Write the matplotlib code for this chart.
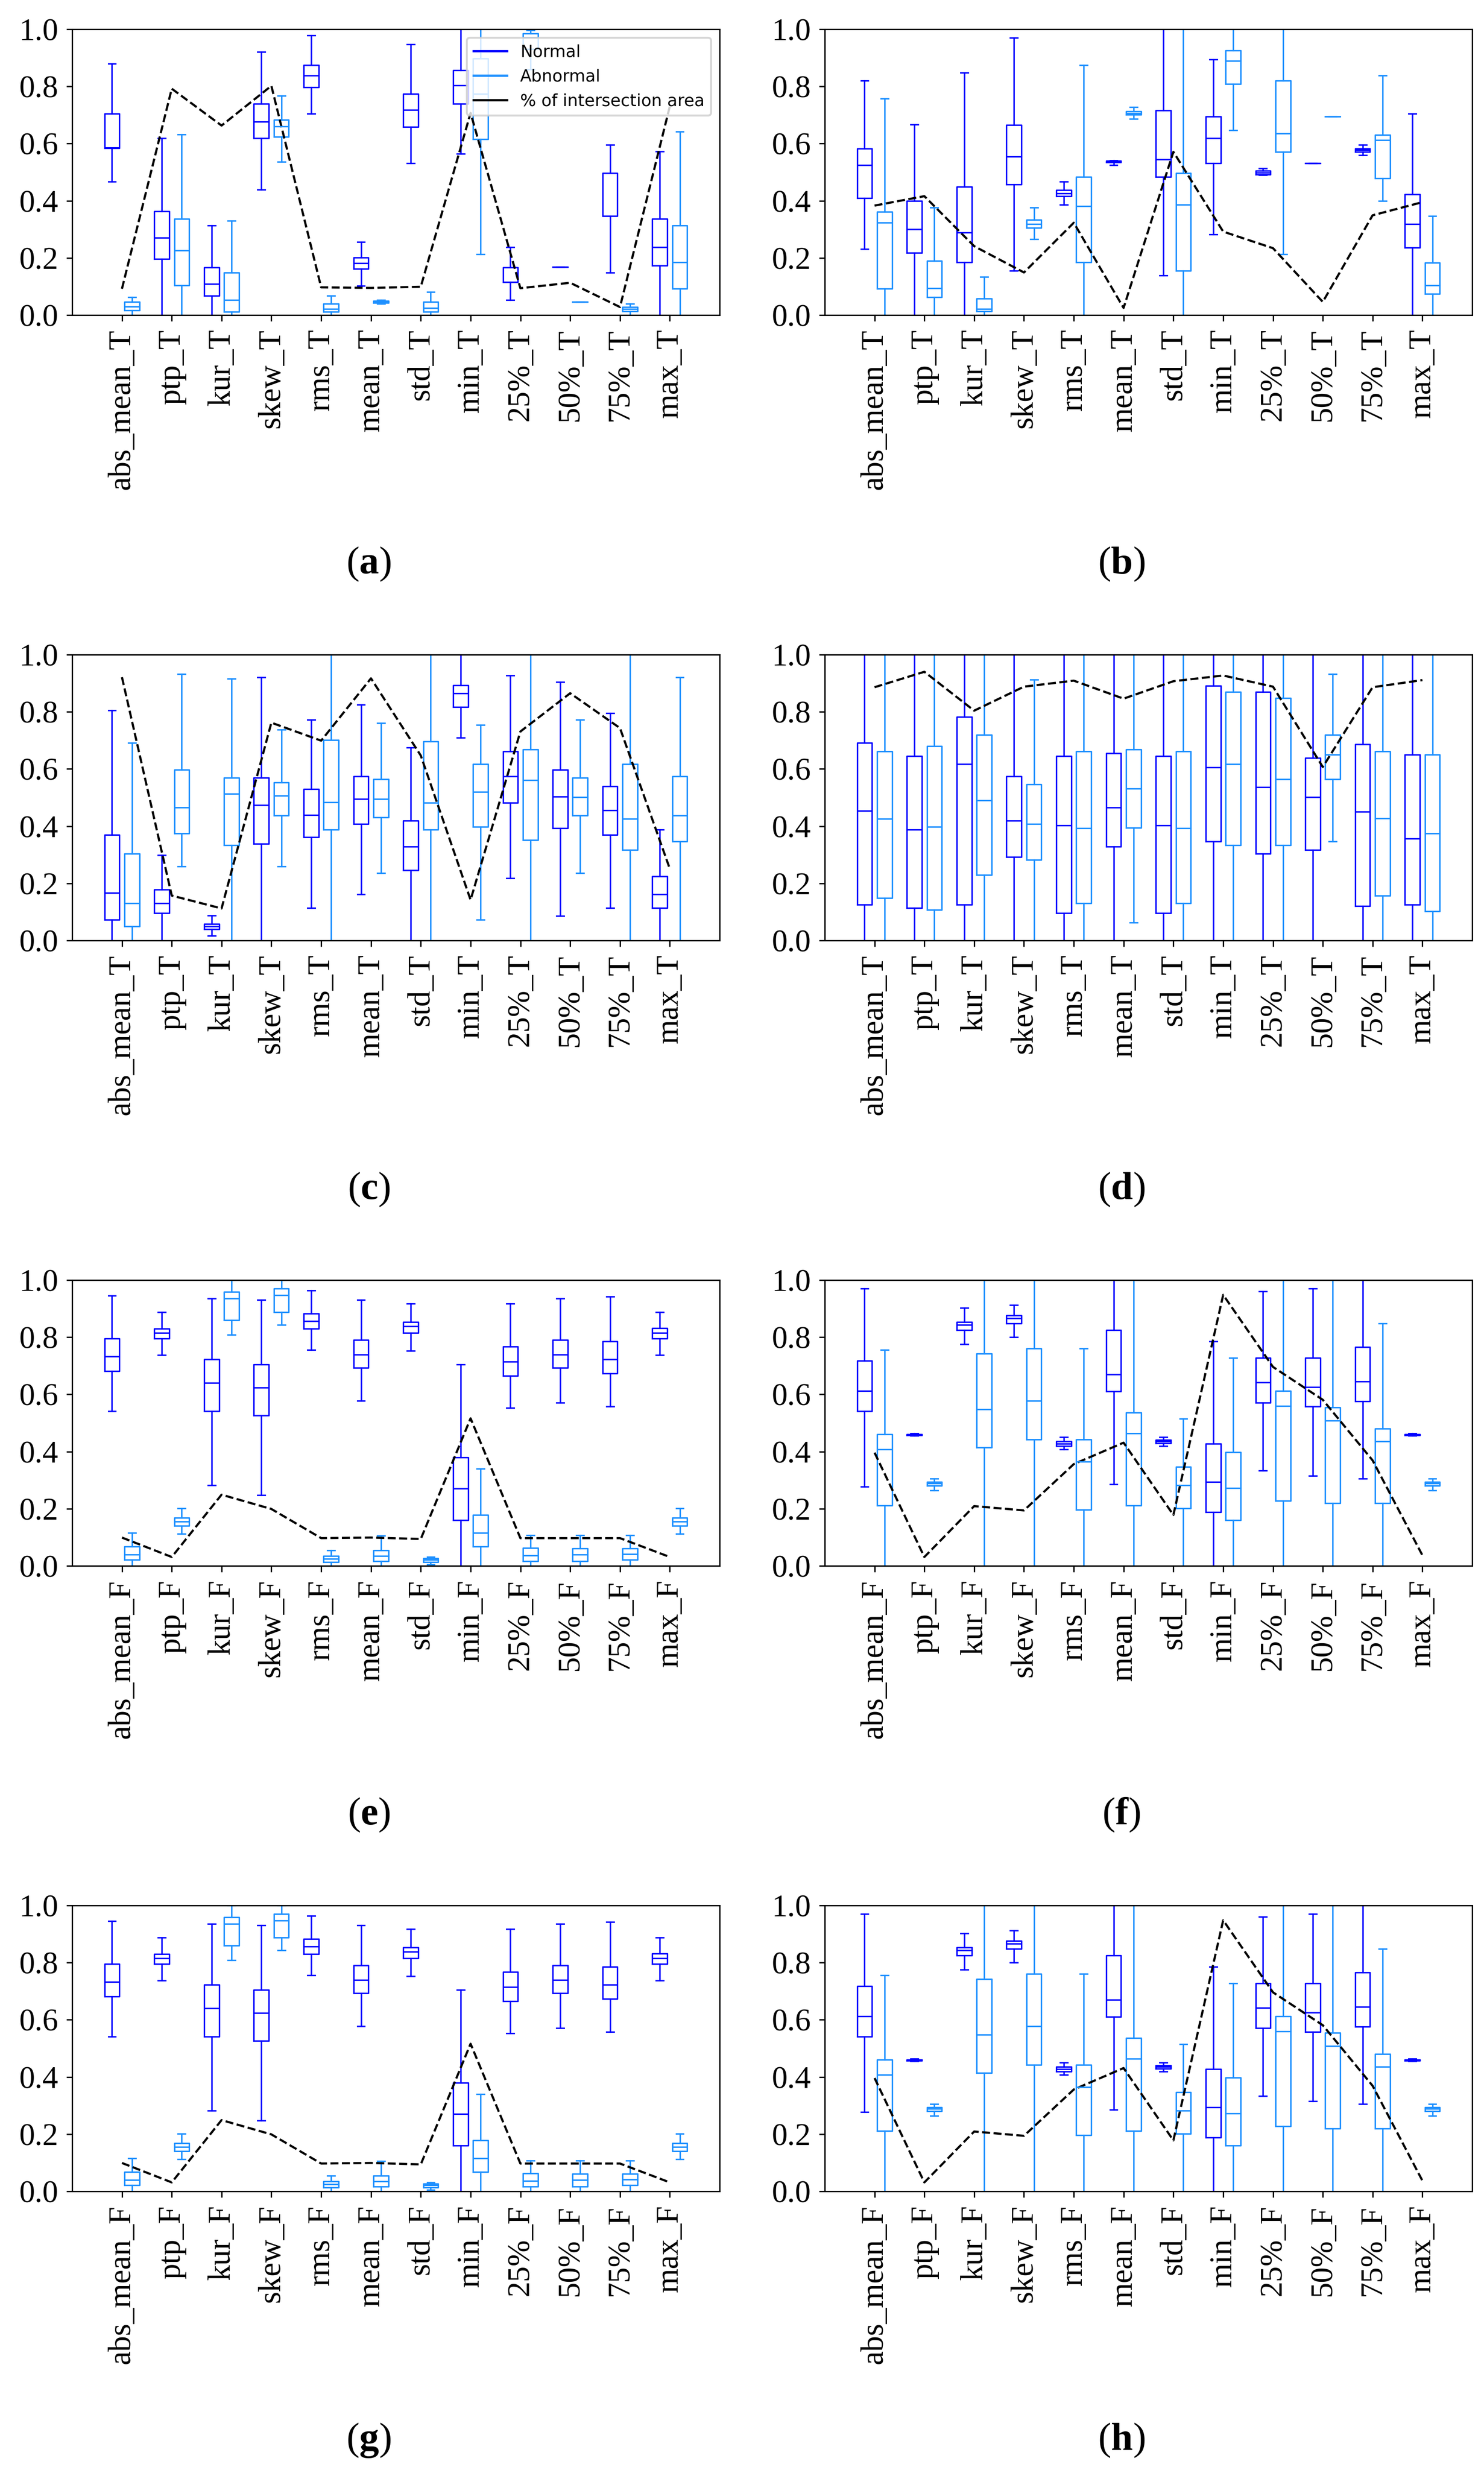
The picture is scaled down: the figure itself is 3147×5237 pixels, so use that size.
import numpy as np
import matplotlib
matplotlib.use("Agg")
import matplotlib.pyplot as plt

plt.rcParams['mathtext.fontset'] = 'custom'
plt.rcParams['mathtext.rm'] = 'Liberation Serif'
plt.rcParams['mathtext.bf'] = 'Liberation Serif:bold'

# feature names on the x axis
features_T = ['abs_mean_T', 'ptp_T', 'kur_T', 'skew_T', 'rms_T', 'mean_T',
              'std_T', 'min_T', '25%_T', '50%_T', '75%_T', 'max_T']
features_F = ['abs_mean_F', 'ptp_F', 'kur_F', 'skew_F', 'rms_F', 'mean_F',
              'std_F', 'min_F', '25%_F', '50%_F', '75%_F', 'max_F']

# box stats per feature: (whisker low, q1, median, q3, whisker high)
a_normal = [(0.467, 0.584, 0.585, 0.705, 0.879), (-0.05, 0.197, 0.271, 0.363, 0.618),
            (-0.05, 0.067, 0.109, 0.167, 0.313), (0.439, 0.618, 0.676, 0.739, 0.920),
            (0.704, 0.797, 0.839, 0.874, 0.978), (0.102, 0.162, 0.181, 0.202, 0.255),
            (0.531, 0.658, 0.718, 0.774, 0.948), (0.565, 0.739, 0.804, 0.857, 1.05),
            (0.052, 0.115, 0.116, 0.167, 0.237), (0.168, 0.168, 0.168, 0.168, 0.168),
            (0.149, 0.346, 0.347, 0.497, 0.595), (-0.05, 0.173, 0.237, 0.336, 0.573)]
a_abnormal = [(-0.02, 0.016, 0.030, 0.046, 0.063), (-0.05, 0.104, 0.226, 0.336, 0.632),
              (-0.05, 0.011, 0.053, 0.149, 0.330), (0.537, 0.623, 0.660, 0.683, 0.768),
              (-0.02, 0.011, 0.021, 0.039, 0.068), (0.040, 0.043, 0.046, 0.049, 0.052),
              (-0.02, 0.011, 0.025, 0.046, 0.081), (0.213, 0.616, 0.774, 0.897, 1.05),
              (0.860, 0.930, 0.970, 0.985, 0.997), (0.046, 0.046, 0.046, 0.046, 0.046),
              (-0.01, 0.013, 0.021, 0.028, 0.039), (-0.05, 0.092, 0.184, 0.313, 0.642)]
a_overlap = [0.092, 0.792, 0.663, 0.802, 0.097, 0.095, 0.099, 0.707, 0.094, 0.113, 0.028, 0.730]

b_normal = [(0.231, 0.409, 0.525, 0.583, 0.820), (-0.05, 0.218, 0.300, 0.399, 0.667),
            (-0.05, 0.184, 0.289, 0.449, 0.849), (0.155, 0.457, 0.555, 0.665, 0.971),
            (0.386, 0.416, 0.425, 0.437, 0.467), (0.525, 0.534, 0.537, 0.540, 0.542),
            (0.139, 0.484, 0.544, 0.716, 1.05), (0.283, 0.531, 0.618, 0.694, 0.895),
            (0.490, 0.492, 0.499, 0.505, 0.513), (0.531, 0.531, 0.531, 0.531, 0.531),
            (0.560, 0.571, 0.578, 0.583, 0.595), (-0.05, 0.236, 0.318, 0.423, 0.704)]
b_abnormal = [(-0.05, 0.092, 0.323, 0.362, 0.758), (-0.05, 0.062, 0.094, 0.189, 0.376),
              (-0.05, 0.013, 0.021, 0.057, 0.134), (0.265, 0.305, 0.318, 0.334, 0.376),
              (-0.05, 0.184, 0.381, 0.484, 0.874), (0.686, 0.702, 0.707, 0.713, 0.728),
              (-0.05, 0.155, 0.386, 0.497, 1.05), (0.647, 0.809, 0.889, 0.925, 1.05),
              (0.213, 0.571, 0.636, 0.820, 1.05), (0.694, 0.694, 0.694, 0.694, 0.694),
              (0.399, 0.479, 0.613, 0.631, 0.839), (-0.05, 0.074, 0.104, 0.183, 0.346)]
b_overlap = [0.383, 0.416, 0.241, 0.149, 0.323, 0.025, 0.571, 0.292, 0.234, 0.046, 0.349, 0.395]

c_normal = [(-0.05, 0.073, 0.167, 0.369, 0.806), (-0.05, 0.096, 0.131, 0.178, 0.299),
            (0.016, 0.039, 0.049, 0.058, 0.088), (-0.05, 0.338, 0.474, 0.570, 0.921),
            (0.114, 0.362, 0.439, 0.529, 0.773), (0.161, 0.408, 0.495, 0.575, 0.825),
            (-0.05, 0.246, 0.329, 0.419, 0.675), (0.710, 0.817, 0.864, 0.893, 1.05),
            (0.217, 0.482, 0.575, 0.662, 0.928), (0.086, 0.392, 0.503, 0.597, 0.904),
            (0.114, 0.369, 0.455, 0.540, 0.796), (-0.05, 0.114, 0.161, 0.224, 0.387)]
c_abnormal = [(-0.05, 0.049, 0.131, 0.304, 0.692), (0.259, 0.374, 0.465, 0.597, 0.933),
              (-0.05, 0.334, 0.513, 0.570, 0.916), (0.259, 0.437, 0.507, 0.552, 0.738),
              (-0.05, 0.387, 0.484, 0.702, 1.05), (0.236, 0.430, 0.495, 0.565, 0.760),
              (-0.05, 0.387, 0.482, 0.696, 1.05), (0.073, 0.397, 0.519, 0.617, 0.754),
              (-0.05, 0.351, 0.561, 0.668, 1.05), (0.236, 0.437, 0.502, 0.570, 0.773),
              (-0.05, 0.317, 0.425, 0.617, 1.05), (-0.05, 0.346, 0.437, 0.575, 0.921)]
c_overlap = [0.921, 0.157, 0.112, 0.762, 0.699, 0.917, 0.647, 0.142, 0.731, 0.865, 0.743, 0.251]

d_normal = [(-0.05, 0.125, 0.453, 0.691, 1.05), (-0.05, 0.114, 0.387, 0.645, 1.05),
            (-0.05, 0.125, 0.617, 0.783, 1.05), (-0.05, 0.292, 0.419, 0.575, 1.05),
            (-0.05, 0.096, 0.403, 0.645, 1.05), (-0.05, 0.329, 0.465, 0.655, 1.05),
            (-0.05, 0.096, 0.403, 0.645, 1.05), (-0.05, 0.346, 0.605, 0.891, 1.05),
            (-0.05, 0.304, 0.537, 0.869, 1.05), (-0.05, 0.317, 0.502, 0.638, 1.05),
            (-0.05, 0.121, 0.450, 0.686, 1.05), (-0.05, 0.125, 0.356, 0.650, 1.05)]
d_abnormal = [(-0.05, 0.149, 0.425, 0.662, 1.05), (-0.05, 0.107, 0.397, 0.680, 1.05),
              (-0.05, 0.230, 0.490, 0.720, 1.05), (-0.05, 0.282, 0.408, 0.547, 0.912),
              (-0.05, 0.131, 0.392, 0.662, 1.05), (0.063, 0.395, 0.531, 0.668, 1.05),
              (-0.05, 0.131, 0.392, 0.662, 1.05), (-0.05, 0.334, 0.617, 0.869, 1.05),
              (-0.05, 0.334, 0.565, 0.848, 1.05), (0.346, 0.565, 0.650, 0.720, 0.933),
              (-0.05, 0.156, 0.427, 0.662, 1.05), (-0.05, 0.102, 0.374, 0.650, 1.05)]
d_overlap = [0.886, 0.940, 0.804, 0.888, 0.909, 0.846, 0.907, 0.927, 0.888, 0.607, 0.886, 0.911]

e_normal = [(0.542, 0.681, 0.733, 0.796, 0.946), (0.738, 0.796, 0.815, 0.830, 0.888),
            (0.283, 0.542, 0.641, 0.723, 0.935), (0.248, 0.526, 0.623, 0.704, 0.930),
            (0.756, 0.830, 0.857, 0.883, 0.963), (0.578, 0.693, 0.740, 0.791, 0.930),
            (0.752, 0.815, 0.838, 0.853, 0.918), (-0.05, 0.160, 0.270, 0.380, 0.705),
            (0.553, 0.665, 0.715, 0.768, 0.918), (0.571, 0.693, 0.740, 0.791, 0.935),
            (0.558, 0.673, 0.723, 0.785, 0.942), (0.738, 0.796, 0.815, 0.832, 0.888)]
e_abnormal = [(-0.02, 0.021, 0.040, 0.068, 0.115), (0.113, 0.141, 0.155, 0.168, 0.202),
              (0.808, 0.859, 0.935, 0.958, 1.0), (0.843, 0.888, 0.948, 0.971, 1.0),
              (-0.02, 0.014, 0.024, 0.035, 0.055), (-0.02, 0.016, 0.035, 0.055, 0.105),
              (0.005, 0.014, 0.021, 0.026, 0.031), (-0.05, 0.068, 0.115, 0.178, 0.340),
              (-0.02, 0.016, 0.037, 0.063, 0.108), (-0.02, 0.016, 0.040, 0.061, 0.108),
              (-0.02, 0.021, 0.042, 0.061, 0.108), (0.113, 0.141, 0.155, 0.168, 0.202)]
e_overlap = [0.099, 0.031, 0.249, 0.199, 0.097, 0.099, 0.094, 0.516, 0.097, 0.097, 0.097, 0.031]

f_normal = [(0.277, 0.542, 0.613, 0.717, 0.971), (0.455, 0.457, 0.459, 0.461, 0.463),
            (0.775, 0.825, 0.843, 0.853, 0.903), (0.801, 0.848, 0.867, 0.877, 0.913),
            (0.408, 0.419, 0.427, 0.435, 0.450), (0.286, 0.610, 0.670, 0.825, 1.05),
            (0.419, 0.429, 0.435, 0.440, 0.450), (-0.05, 0.188, 0.293, 0.427, 0.785),
            (0.333, 0.571, 0.642, 0.728, 0.960), (0.316, 0.558, 0.625, 0.728, 0.971),
            (0.306, 0.576, 0.646, 0.766, 1.05), (0.455, 0.457, 0.459, 0.461, 0.463)]
f_abnormal = [(-0.05, 0.212, 0.408, 0.461, 0.756), (0.264, 0.281, 0.288, 0.293, 0.306),
              (-0.05, 0.414, 0.548, 0.743, 1.05), (-0.05, 0.443, 0.578, 0.761, 1.05),
              (-0.05, 0.197, 0.364, 0.443, 0.761), (-0.05, 0.212, 0.463, 0.536, 1.05),
              (-0.05, 0.202, 0.283, 0.346, 0.515), (-0.05, 0.160, 0.272, 0.398, 0.728),
              (-0.05, 0.227, 0.560, 0.613, 1.05), (-0.05, 0.220, 0.508, 0.555, 1.05),
              (-0.05, 0.220, 0.435, 0.480, 0.848), (0.264, 0.281, 0.288, 0.293, 0.306)]
f_overlap = [0.396, 0.031, 0.209, 0.194, 0.356, 0.431, 0.178, 0.948, 0.696, 0.581, 0.369, 0.037]

NORMAL_COLOR = 'blue'
ABNORMAL_COLOR = 'dodgerblue'

# pixel layout of the original composite (3147 x 5237)
FIG_W, FIG_H, DPI = 3147, 5237, 300
AX_LEFT = [153, 1749]
AX_W, AX_H = 1373, 606
AX_BOTTOM = [668, 1994, 3320, 4646]
LABEL_X = [782, 2378]
LABEL_Y = [1195, 2521, 3847, 5173]


def to_stats(rows):
    return [dict(whislo=lo, q1=q1, med=med, q3=q3, whishi=hi, fliers=[])
            for lo, q1, med, q3, hi in rows]


def draw_group(ax, rows, positions, color):
    lw = 0.75
    ax.bxp(to_stats(rows), positions=positions, widths=0.6, showfliers=False,
           manage_ticks=False,
           boxprops=dict(color=color, linewidth=lw),
           whiskerprops=dict(color=color, linewidth=lw),
           capprops=dict(color=color, linewidth=lw),
           medianprops=dict(color=color, linewidth=lw))


def plot_panel(ax, normal, abnormal, overlap, ticks, legend=False):
    n = len(ticks)
    base = np.arange(n) * 2.0
    draw_group(ax, normal, base - 0.4, NORMAL_COLOR)
    draw_group(ax, abnormal, base + 0.4, ABNORMAL_COLOR)
    ax.plot(base, overlap, linestyle='--', color='black', linewidth=1.1)

    ax.set_xlim(-2, n * 2)
    ax.set_ylim(0, 1)
    ax.set_xticks(base)
    ax.set_xticklabels(ticks, rotation=90, fontfamily='Liberation Serif', fontsize=16)
    ax.set_yticks(np.arange(0, 1.01, 0.2))
    ax.set_yticklabels([f'{v:.1f}' for v in np.arange(0, 1.01, 0.2)],
                       fontfamily='Liberation Serif', fontsize=16)
    ax.tick_params(length=3, width=0.7, pad=4)
    for s in ax.spines.values():
        s.set_linewidth(0.7)

    if legend:
        # empty lines just for the legend entries
        ax.plot([], c=NORMAL_COLOR, label='Normal', linewidth=1.15)
        ax.plot([], c=ABNORMAL_COLOR, label='Abnormal', linewidth=1.15)
        ax.plot([], c='black', label='% of intersection area', linewidth=1.15)
        ax.legend(loc='upper right', prop={'family': 'DejaVu Sans', 'size': 8.5})


def main():
    fig = plt.figure(figsize=(FIG_W / DPI, FIG_H / DPI), dpi=DPI)

    panels = [
        ('a', a_normal, a_abnormal, a_overlap, features_T),
        ('b', b_normal, b_abnormal, b_overlap, features_T),
        ('c', c_normal, c_abnormal, c_overlap, features_T),
        ('d', d_normal, d_abnormal, d_overlap, features_T),
        ('e', e_normal, e_abnormal, e_overlap, features_F),
        ('f', f_normal, f_abnormal, f_overlap, features_F),
        ('g', e_normal, e_abnormal, e_overlap, features_F),
        ('h', f_normal, f_abnormal, f_overlap, features_F),
    ]

    for i, (tag, normal, abnormal, overlap, ticks) in enumerate(panels):
        row, col = divmod(i, 2)
        rect = [AX_LEFT[col] / FIG_W, 1 - AX_BOTTOM[row] / FIG_H, AX_W / FIG_W, AX_H / FIG_H]
        ax = fig.add_axes(rect)
        plot_panel(ax, normal, abnormal, overlap, ticks, legend=(tag == 'a'))
        fig.text(LABEL_X[col] / FIG_W, 1 - LABEL_Y[row] / FIG_H, r'$(\mathbf{%s})$' % tag,
                 ha='center', va='center', fontsize=20)

    fig.savefig('out.png', dpi=DPI)


if __name__ == "__main__":
    main()
